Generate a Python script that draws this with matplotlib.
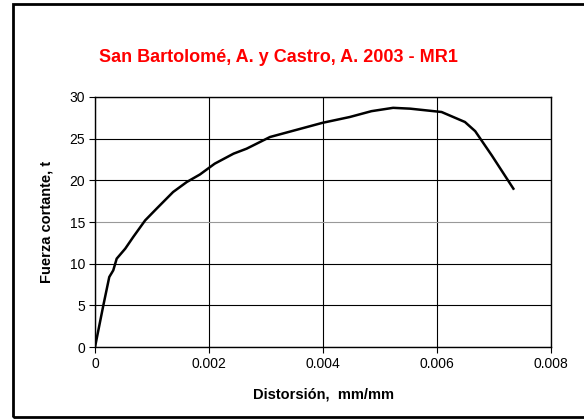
import matplotlib
matplotlib.use('Agg')
import matplotlib.pyplot as plt
from matplotlib.patches import Rectangle

plt.rcParams['font.family'] = ['Liberation Sans', 'DejaVu Sans']

# Curve
distorsion = [0.0, 0.000146, 0.00025, 0.00032, 0.00038, 0.00053, 0.00067, 0.00088,
              0.00108, 0.00137, 0.00161, 0.00184, 0.0021, 0.00243, 0.00266, 0.00307,
              0.00399, 0.00447, 0.00485, 0.00523, 0.00553, 0.00608, 0.00649, 0.00667,
              0.00696, 0.00734]
fuerza = [0.0, 5.0, 8.4, 9.2, 10.6, 11.8, 13.2, 15.2,
          16.6, 18.6, 19.8, 20.7, 22.0, 23.2, 23.8, 25.2,
          26.9, 27.6, 28.3, 28.7, 28.6, 28.2, 27.0, 25.9,
          23.0, 19.0]

xticks = [0, 0.002, 0.004, 0.006, 0.008]
xticklabels = ['0', '0.002', '0.004', '0.006', '0.008']
yticks = [0, 5, 10, 15, 20, 25, 30]

fig = plt.figure(figsize=(5.84, 4.19), dpi=100)
ax = fig.add_axes([0.1627, 0.1718, 0.7808, 0.5967])

ax.plot(distorsion, fuerza, color='black', linewidth=1.8, zorder=3)

ax.set_xlim(0, 0.008)
ax.set_ylim(0, 30)
ax.set_xticks(xticks)
ax.set_xticklabels(xticklabels)
ax.set_yticks(yticks)
ax.tick_params(direction='out', length=4, width=0.8, labelsize=10, pad=3)

# gridlines
ax.grid(True, color='black', linewidth=0.8)
for i, gl in enumerate(ax.yaxis.get_gridlines()):
    if yticks[i] == 15:
        gl.set_color('#999999')
for s in ax.spines.values():
    s.set_linewidth(1.0)

ax.set_xlabel('Distorsión,  mm/mm', fontsize=10.5, fontweight='bold', labelpad=12)
ax.set_ylabel('Fuerza cortante, t', fontsize=10.5, fontweight='bold', labelpad=12)

fig.text(0.476, 0.863, 'San Bartolomé, A. y Castro, A. 2003 - MR1',
         color='#ff0000', fontsize=13, fontweight='bold', ha='center', va='center')

# outer frame
fig.patches.append(Rectangle((13 / 584, 2 / 419), 0.99, 413 / 419, transform=fig.transFigure,
                             fill=False, edgecolor='black', linewidth=2, clip_on=False))

fig.savefig('out.png', dpi=100)
